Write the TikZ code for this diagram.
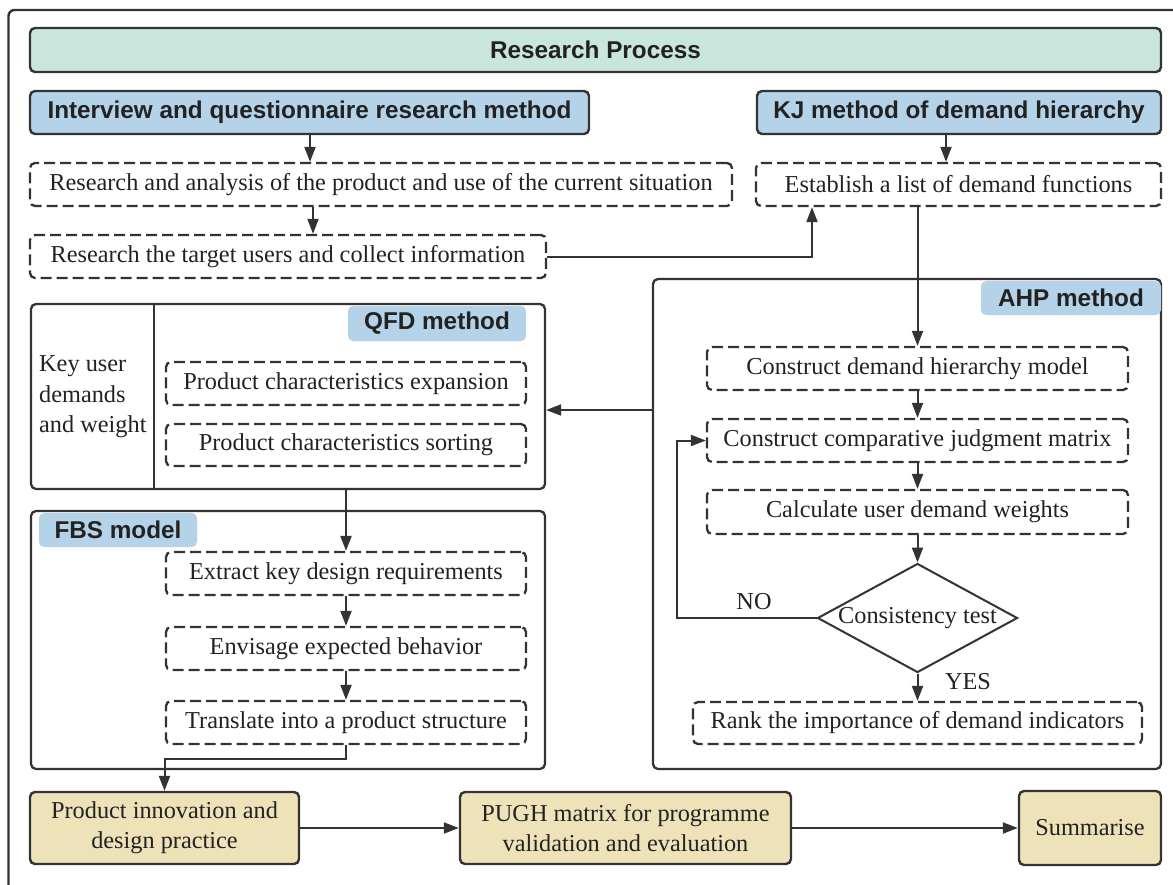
\documentclass[tikz,border=0pt]{standalone}
\usepackage{fontspec}
\setmainfont{Liberation Serif}
\setsansfont{Liberation Sans}
\usetikzlibrary{arrows.meta,shapes.geometric}
\definecolor{lc}{HTML}{333333}
\definecolor{tc}{HTML}{222222}
\definecolor{hdgreen}{HTML}{C9E6DD}
\definecolor{hdblue}{HTML}{B4D3E8}
\definecolor{beige}{HTML}{EEE2B9}
\begin{document}
\begin{tikzpicture}[x=1pt,y=-1pt,
  every node/.style={text=tc,font=\fontsize{24.3}{29}\selectfont},
  box/.style={draw=lc,line width=2.4pt,rounded corners=5pt,inner sep=0pt,align=center},
  hdr/.style={box,fill=hdblue,font=\sffamily\bfseries\fontsize{24.3}{29}\selectfont},
  dbox/.style={draw=lc,line width=2.3pt,dash pattern=on 11pt off 5pt,rounded corners=5pt,inner sep=0pt,align=center},
  frame/.style={draw=lc,line width=2.3pt,rounded corners=5pt,inner sep=0pt},
  lab/.style={fill=hdblue,rounded corners=5pt,inner sep=0pt,font=\sffamily\bfseries\fontsize{24.3}{29}\selectfont},
  fbox/.style={box,fill=beige,font=\fontsize{24.3}{30}\selectfont},
  arr/.style={draw=lc,line width=2pt,-{Triangle[length=15pt,width=11pt]}},
  ln/.style={draw=lc,line width=2pt}]
\clip (0,0) rectangle (1173,884);
\useasboundingbox (0,0) rectangle (1173,884);
\fill[white] (0,0) rectangle (1173,884);
\draw[lc,line width=2.4pt,rounded corners=6pt] (8.5,10) rectangle (1195,905);

\node[box,fill=hdgreen,minimum width=1131,minimum height=44,font=\sffamily\bfseries\fontsize{24.3}{29}\selectfont] (title) at (595.5,50) {Research Process};
\node[hdr,minimum width=559,minimum height=43] (intv) at (309.5,112.5) {Interview and questionnaire research method};
\node[hdr,minimum width=404,minimum height=43] (kj) at (959,112.5) {KJ method of demand hierarchy};
\node[dbox,minimum width=702,minimum height=43] (ana) at (381,184.5) {Research and analysis of the product and use of the current situation};
\node[dbox,minimum width=405,minimum height=43] (est) at (958.5,184.5) {Establish a list of demand functions};
\node[dbox,minimum width=516,minimum height=43] (tgt) at (288,256.5) {Research the target users and collect information};

% QFD
\node[frame,minimum width=514,minimum height=185] (qfd) at (288,396.5) {};
\draw[ln] (154,0 |- qfd.north) -- (154,0 |- qfd.south);
\node[lab,minimum width=178,minimum height=35] (qfdlab) at (437,323.5) {QFD method};
\node[anchor=west,align=left,inner sep=0pt,font=\fontsize{24.3}{30.5}\selectfont] (key) at (39,397) {Key user\\demands\\and weight};
\node[dbox,minimum width=360,minimum height=43] (pce) at (346,383.5) {Product characteristics expansion};
\node[dbox,minimum width=360,minimum height=42] (pcs) at (346,445) {Product characteristics sorting};

% FBS
\node[frame,minimum width=514,minimum height=258] (fbs) at (288,640) {};
\node[lab,minimum width=158,minimum height=34] (fbslab) at (118,530) {FBS model};
\node[dbox,minimum width=360,minimum height=43] (ext) at (346,573.5) {Extract key design requirements};
\node[dbox,minimum width=360,minimum height=43] (env) at (346,648.5) {Envisage expected behavior};
\node[dbox,minimum width=360,minimum height=43] (trn) at (346,722.5) {Translate into a product structure};

% AHP
\node[frame,minimum width=508,minimum height=490] (ahp) at (907,524) {};
\node[lab,minimum width=180,minimum height=34] (ahplab) at (1071,298) {AHP method};
\node[dbox,minimum width=421,minimum height=43] (cdh) at (917.5,368.5) {Construct demand hierarchy model};
\node[dbox,minimum width=421,minimum height=43] (ccj) at (917.5,440.5) {Construct comparative judgment matrix};
\node[dbox,minimum width=421,minimum height=44] (cuw) at (917.5,512) {Calculate user demand weights};
\node[draw=lc,line width=2pt,shape=diamond,aspect=1.83,inner sep=0pt,minimum width=200,minimum height=109] (dia) at (917.5,618) {Consistency test};
\node[dbox,minimum width=449,minimum height=42] (rank) at (917.5,723) {Rank the importance of demand indicators};
\node[inner sep=0pt] (no) at (754,602) {NO};
\node[inner sep=0pt] (yes) at (968,682) {YES};

% bottom
\node[fbox,minimum width=269,minimum height=72] (pin) at (164.5,828) {Product innovation and\\design practice};
\node[fbox,minimum width=331,minimum height=72] (pugh) at (625.5,828) {PUGH matrix for programme\\validation and evaluation};
\node[fbox,minimum width=142,minimum height=74] (sum) at (1090,828) {Summarise};

% connectors
\draw[arr] (intv.south -| 310,0) -- (ana.north -| 310,0);
\draw[arr] (ana.south -| 313,0) -- (tgt.north -| 313,0);
\draw[arr] (kj.south -| 946,0) -- (est.north -| 946,0);
\draw[arr] (tgt.east) -| (812,0 |- est.south);
\draw[arr] (est.south -| cdh.north) -- (cdh.north);
\draw[arr] (ahp.west |- 0,410) -- (qfd.east |- 0,410);
\draw[arr] (cdh.south) -- (ccj.north);
\draw[arr] (ccj.south) -- (cuw.north);
\draw[arr] (cuw.south) -- (dia.north);
\draw[arr] (dia.south) -- (rank.north);
\draw[arr] (dia.west) -- (677,0 |- dia.west) |- (ccj.west);
\draw[arr] (qfd.south -| ext.north) -- (ext.north);
\draw[arr] (ext.south) -- (env.north);
\draw[arr] (env.south) -- (trn.north);
\draw[arr] (trn.south) -- (trn.south |- 0,759) -| (pin.north);
\draw[arr] (pin.east) -- (pugh.west);
\draw[arr] (pugh.east) -- (sum.west);
\end{tikzpicture}
\end{document}
